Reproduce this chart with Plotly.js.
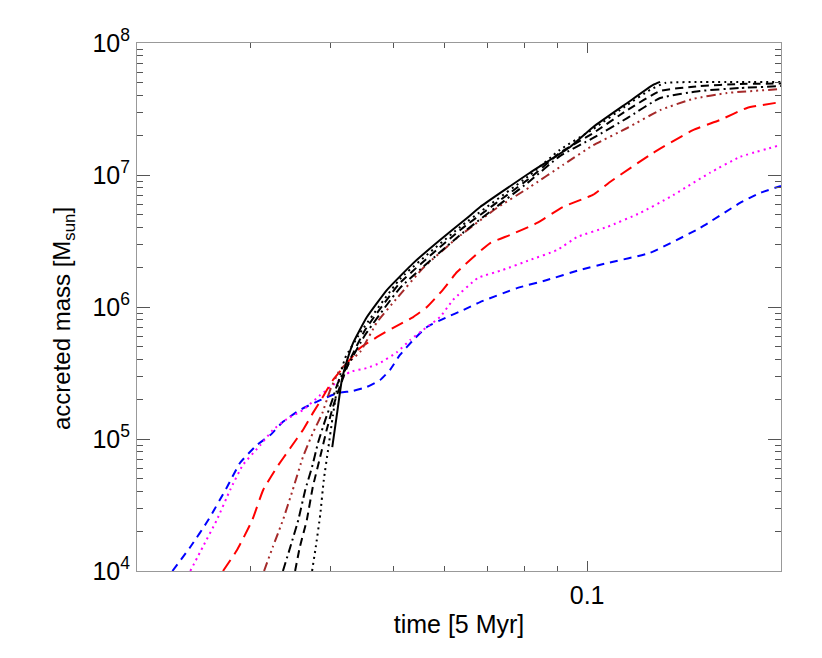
<!DOCTYPE html>
<html>
<head>
<meta charset="utf-8">
<script src="https://cdn.plot.ly/plotly-3.0.1.min.js"></script>
<style>
  html, body { margin: 0; padding: 0; background: #fff; }
  #chart { width: 822px; height: 658px; }
</style>
</head>
<body>
<div id="chart"></div>
<script>
// time in units of 5 Myr, accreted mass in Msun
var tSolid = [0.0402, 0.0409, 0.0416, 0.0424, 0.0433, 0.0455, 0.0489, 0.0537, 0.0591, 0.0651, 0.0682, 0.0815, 0.0941, 0.1022, 0.1154, 0.1266, 0.1298];
var mSolid = [8.69e4, 1.57e5, 2.80e5, 3.96e5, 5.33e5, 8.39e5, 1.35e6, 2.15e6, 3.22e6, 4.72e6, 5.72e6, 1.04e7, 1.63e7, 2.31e7, 3.51e7, 4.81e7, 5.07e7];

var tDot = [0.0374, 0.0379, 0.0385, 0.0390, 0.0396, 0.0403, 0.0410, 0.0421, 0.0444, 0.0512, 0.0635, 0.0815, 0.0907, 0.1022, 0.1154, 0.1252, 0.1321, 0.1497, 0.2];
var mDot = [1.0e4, 1.52e4, 2.65e4, 4.89e4, 8.26e4, 1.52e5, 2.57e5, 4.11e5, 6.35e5, 1.63e6, 4.04e6, 1.0e7, 1.55e7, 2.23e7, 3.39e7, 4.41e7, 4.98e7, 5.07e7, 5.07e7];

var tDash = [0.0352, 0.0358, 0.0367, 0.0375, 0.0385, 0.0394, 0.0403, 0.0413, 0.0428, 0.0452, 0.0512, 0.0635, 0.0815, 0.0907, 0.1022, 0.1154, 0.1298, 0.1497, 0.1727, 0.2];
var mDash = [1.0e4, 1.52e4, 2.43e4, 4.33e4, 7.31e4, 1.17e5, 1.75e5, 2.48e5, 3.96e5, 6.70e5, 1.52e6, 3.83e6, 9.49e6, 1.47e7, 2.08e7, 3.10e7, 4.33e7, 4.72e7, 4.89e7, 4.93e7];

var tDashDot = [0.0337, 0.0346, 0.0356, 0.0365, 0.0374, 0.0382, 0.0392, 0.0402, 0.0410, 0.0428, 0.0452, 0.0512, 0.0635, 0.0815, 0.0907, 0.1022, 0.1154, 0.1298, 0.1497, 0.1727, 0.2];
var mDashDot = [1.0e4, 1.52e4, 2.43e4, 4.11e4, 6.14e4, 9.33e4, 1.39e5, 1.97e5, 2.65e5, 3.83e5, 6.14e5, 1.39e6, 3.51e6, 9.01e6, 1.39e7, 1.91e7, 2.70e7, 3.83e7, 4.33e7, 4.56e7, 4.72e7];

var tBrown = [0.0315, 0.0325, 0.0337, 0.0349, 0.0362, 0.0375, 0.0388, 0.0399, 0.0413, 0.0444, 0.0472, 0.0507, 0.0556, 0.0628, 0.0724, 0.0815, 0.0917, 0.1022, 0.1154, 0.1298, 0.1460, 0.1649, 0.2];
var mBrown = [1.0e4, 1.52e4, 2.43e4, 4.11e4, 7.31e4, 1.11e5, 1.57e5, 2.35e5, 3.33e5, 4.56e5, 7.69e5, 1.17e6, 1.97e6, 3.33e6, 5.62e6, 8.11e6, 1.19e7, 1.68e7, 2.27e7, 3.10e7, 3.77e7, 4.18e7, 4.48e7];

var tRed = [0.0272, 0.0286, 0.0302, 0.0314, 0.0330, 0.0346, 0.0362, 0.0375, 0.0388, 0.0403, 0.0424, 0.0444, 0.0472, 0.0499, 0.0537, 0.0564, 0.0597, 0.0628, 0.0707, 0.0759, 0.0836, 0.0917, 0.1022, 0.1085, 0.1266, 0.1460, 0.1608, 0.1771, 0.2];
var mRed = [1.0e4, 1.44e4, 2.43e4, 4.11e4, 6.14e4, 8.55e4, 1.17e5, 1.57e5, 2.05e5, 2.80e5, 3.77e5, 4.89e5, 5.93e5, 6.93e5, 8.39e5, 1.0e6, 1.35e6, 1.84e6, 3.05e6, 3.51e6, 4.33e6, 5.72e6, 7.1e6, 8.85e6, 1.47e7, 2.19e7, 2.61e7, 3.22e7, 3.57e7];

var tMagenta = [0.0242, 0.0253, 0.0266, 0.0279, 0.0292, 0.0311, 0.0325, 0.0342, 0.0362, 0.0385, 0.0409, 0.0428, 0.0455, 0.0477, 0.0507, 0.0531, 0.0556, 0.0591, 0.0619, 0.0677, 0.0740, 0.0815, 0.0898, 0.0965, 0.1074, 0.1208, 0.1345, 0.1552, 0.1727, 0.2];
var mMagenta = [1.0e4, 1.52e4, 2.43e4, 4.11e4, 6.35e4, 9.01e4, 1.17e5, 1.42e5, 1.66e5, 2.15e5, 2.70e5, 3.22e5, 3.45e5, 3.77e5, 4.56e5, 5.62e5, 6.70e5, 8.39e5, 1.13e6, 1.66e6, 1.91e6, 2.27e6, 2.70e6, 3.39e6, 4.04e6, 5.15e6, 6.81e6, 1.04e7, 1.37e7, 1.69e7];

var tBlue = [0.0227, 0.0242, 0.0258, 0.0276, 0.0289, 0.0307, 0.0322, 0.0337, 0.0358, 0.0385, 0.0410, 0.0433, 0.0455, 0.0477, 0.0494, 0.0512, 0.0537, 0.0564, 0.0606, 0.0642, 0.0682, 0.0778, 0.0866, 0.0975, 0.1074, 0.1252, 0.1497, 0.1727, 0.1855, 0.2];
var mBlue = [1.0e4, 1.52e4, 2.43e4, 4.33e4, 6.58e4, 9.01e4, 1.07e5, 1.35e5, 1.66e5, 1.97e5, 2.23e5, 2.31e5, 2.48e5, 2.80e5, 3.33e5, 4.33e5, 5.62e5, 7.05e5, 8.39e5, 9.48e5, 1.09e6, 1.39e6, 1.60e6, 1.91e6, 2.15e6, 2.57e6, 3.97e6, 6.14e6, 7.31e6, 8.26e6];

var yTickVals = [1e4, 1e5, 1e6, 1e7, 1e8];
var yTickText = ["10<sup>4</sup>", "10<sup>5</sup>", "10<sup>6</sup>", "10<sup>7</sup>", "10<sup>8</sup>"];
var xTickVals = [0.1];
var xTickText = ["0.1"];

var xMinor = [0.03, 0.04, 0.05, 0.06, 0.07, 0.08, 0.09];
var yMinor = [];
for (var d = 4; d < 8; d++) {
  for (var k = 2; k <= 9; k++) yMinor.push(k * Math.pow(10, d));
}

function line(t, m, color, dash) {
  return {
    x: t, y: m, type: "scatter", mode: "lines",
    line: { color: color, width: 2, dash: dash, shape: "spline", smoothing: 0.4 },
    hoverinfo: "skip"
  };
}

var traces = [
  line(tBlue, mBlue, "#0000ff", "8px,6px"),
  line(tMagenta, mMagenta, "#ff00ff", "2px,4px"),
  line(tRed, mRed, "#ff0000", "13px,7px"),
  line(tBrown, mBrown, "#a52a2a", "9px,4px,2px,4px,2px,4px,2px,4px"),
  line(tDashDot, mDashDot, "#000000", "9px,4px,2px,4px"),
  line(tDash, mDash, "#000000", "8px,5px"),
  line(tDot, mDot, "#000000", "2px,4px"),
  line(tSolid, mSolid, "#000000", "solid")
];

var fontFam = "Liberation Sans, Arial, Helvetica, sans-serif";

var layout = {
  width: 822, height: 658,
  margin: { l: 137, r: 41, t: 43, b: 87 },
  paper_bgcolor: "#ffffff",
  plot_bgcolor: "#ffffff",
  showlegend: false,
  font: { family: fontFam, size: 25, color: "#000" },
  xaxis: {
    type: "log",
    range: [Math.log10(0.02), Math.log10(0.2)],
    tickmode: "array", tickvals: xTickVals, ticktext: xTickText,
    ticks: "inside", ticklen: 10, tickwidth: 1, tickcolor: "#555",
    ticklabelstandoff: 2,
    minor: { tickmode: "array", tickvals: xMinor, ticks: "inside", ticklen: 5, tickwidth: 1, tickcolor: "#555", showgrid: false },
    showline: true, linecolor: "#999", linewidth: 1, mirror: "ticks",
    showgrid: false, zeroline: false,
    tickfont: { size: 25 },
    title: { text: "time [5 Myr]", font: { size: 25 }, standoff: 7 }
  },
  yaxis: {
    type: "log",
    range: [4, 8],
    tickmode: "array", tickvals: yTickVals, ticktext: yTickText,
    ticks: "inside", ticklen: 13, tickwidth: 1, tickcolor: "#555",
    ticklabelstandoff: 1,
    minor: { tickmode: "array", tickvals: yMinor, ticks: "inside", ticklen: 6, tickwidth: 1, tickcolor: "#555", showgrid: false },
    showline: true, linecolor: "#999", linewidth: 1, mirror: "ticks",
    showgrid: false, zeroline: false,
    tickfont: { size: 25 }
  },
  annotations: [{
    text: "accreted mass [M<sub>sun</sub>]",
    xref: "paper", yref: "paper",
    x: -0.115, y: 0.479, xanchor: "center", yanchor: "middle",
    textangle: -90, showarrow: false,
    font: { family: fontFam, size: 24, color: "#000" }
  }]
};

Plotly.newPlot("chart", traces, layout, { staticPlot: true, displayModeBar: false });
</script>
</body>
</html>
